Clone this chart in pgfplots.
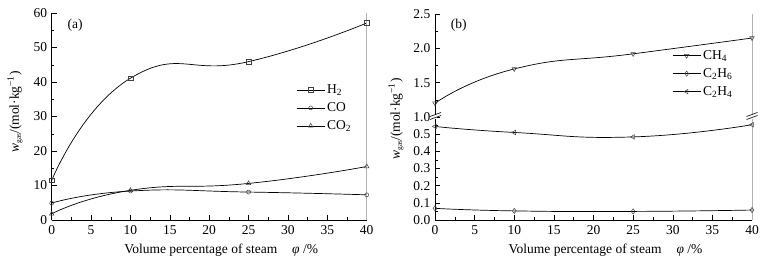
\documentclass[border=0pt]{standalone}
\usepackage{fontspec}
\setmainfont{Liberation Serif}
\usepackage{pgfplots}
\pgfplotsset{compat=1.18}
\begin{document}
\fontsize{13.5}{16}\selectfont
\begin{tikzpicture}[x=1pt,y=1pt]
\useasboundingbox (0pt,0pt) rectangle (770pt,259pt);
\pgfplotsset{
  base/.style={
    scale only axis, anchor=south west, clip=false,
    axis x line*=bottom, axis y line*=left,
    xmin=0, xmax=40, xtick={0,5,...,40}, minor x tick num=1,
    tick align=inside, major tick length=5pt, minor tick length=2.5pt,
    tick style={black, line width=0.5pt},
    axis line style={black, line width=0.6pt},
    /pgf/number format/assume math mode=true,
    tick label style={font=\fontsize{13.5}{15}\selectfont},
    xticklabel style={yshift=-1pt},
    label style={font=\fontsize{13.5}{15}\selectfont},
    legend style={draw=none, fill=none, font=\fontsize{13.5}{15}\selectfont,
      row sep=3pt, inner sep=0pt},
    legend cell align=left,
    legend image code/.code={\draw[mark repeat=2,mark phase=2,##1] plot coordinates {(0pt,0pt) (14pt,0pt) (28pt,0pt)};},
    every axis plot/.append style={black, line width=0.7pt},
  },
  mk/.style={mark options={solid, fill=white, draw=black!75, line width=0.5pt, rotate=#1}},
  mk/.default=0,
}
\def\ylab{\textit{w}\raisebox{-2pt}{\fontsize{7.5}{8}\selectfont gas}/(mol·kg\textsuperscript{−1})}
\def\xlab{Volume percentage of steam\hspace{1.1em}\textit{φ} /\%}
% ---------- panel (a)
\begin{axis}[base, at={(51.7pt,39pt)}, width=315pt, height=207pt,
  ymin=0, ymax=60, ytick={0,10,...,60}, minor y tick num=1,
  xlabel={\xlab}, xlabel style={xshift=12pt},
  legend style={at={(0.776,0.665)}, anchor=north west}]
\addplot[smooth, tension=0.9, mk, mark=square, mark size=2.4pt] coordinates {(0,11.5) (10,41.1) (25,45.9) (40,57.1)};
\addlegendentry{H\textsubscript{2}}
\addplot[smooth, tension=0.9, mk, mark=o, mark size=2pt] coordinates {(0,4.9) (10,8.4) (25,8.1) (40,7.3)};
\addlegendentry{CO}
\addplot[smooth, tension=0.9, mk, mark=triangle, mark size=2.6pt] coordinates {(0,1.8) (10,8.6) (25,10.6) (40,15.5)};
\addlegendentry{CO\textsubscript{2}}
\draw[black!30, line width=1pt] (rel axis cs:1,0) -- (rel axis cs:1,1);
\node[anchor=west] at (axis description cs:0.036,0.94) {(a)};
\end{axis}
% ---------- panel (b) lower
\begin{axis}[base, at={(435pt,39pt)}, width=317pt, height=103pt,
  ymin=0, ymax=0.6, ytick={0,0.1,...,0.5}, minor ytick={0.05,0.15,...,0.55},
  yticklabel style={/pgf/number format/.cd, fixed, fixed zerofill, precision=1},
  xlabel={\xlab}, xlabel style={xshift=12pt}]
\addplot[smooth, tension=0.9, mk, mark=diamond, mark size=2.6pt] coordinates {(0,0.068) (10,0.053) (25,0.05) (40,0.058)};
\addplot[smooth, tension=0.9, mk=90, mark=triangle, mark size=2.6pt] coordinates {(0,0.545) (10,0.51) (25,0.484) (40,0.555)};
\draw[black!30, line width=1pt] (rel axis cs:1,0) -- (rel axis cs:1,1);
\end{axis}
% ---------- panel (b) upper
\begin{axis}[base, at={(435pt,142pt)}, width=317pt, height=103pt,
  axis x line=none,
  ymin=1, ymax=2.5, ytick={1,1.5,2,2.5}, minor ytick={1.25,1.75,2.25},
  yticklabel style={/pgf/number format/.cd, fixed, fixed zerofill, precision=1},
  legend style={at={(0.748,0.67)}, anchor=north west}]
\addplot[smooth, tension=0.9, mk=180, mark=triangle, mark size=2.6pt] coordinates {(0,1.2) (10,1.70) (25,1.92) (40,2.15)};
\addlegendentry{CH\textsubscript{4}}
\addlegendimage{black, line width=0.7pt, mk, mark=diamond, mark size=2.6pt}
\addlegendentry{C\textsubscript{2}H\textsubscript{6}}
\addlegendimage{black, line width=0.7pt, mk=90, mark=triangle, mark size=2.6pt}
\addlegendentry{C\textsubscript{2}H\textsubscript{4}}
\draw[black!30, line width=1pt] (rel axis cs:1,0) -- (rel axis cs:1,1);
\node[anchor=west] at (axis description cs:0.035,0.89) {(b)};
\end{axis}
% break marks and y labels
\fill[white] (433pt,140pt) rectangle (437pt,144pt);
\draw[line width=0.6pt] (430pt,139.5pt) -- (441pt,143.5pt);
\draw[line width=0.6pt] (430pt,142.5pt) -- (441pt,146.5pt);
\fill[white] (750pt,140pt) rectangle (754pt,144pt);
\draw[line width=0.6pt] (746.5pt,139.5pt) -- (757.5pt,143.5pt);
\draw[line width=0.6pt] (746.5pt,142.5pt) -- (757.5pt,146.5pt);
\node[rotate=90, font=\fontsize{13.5}{15}\selectfont] at (15pt,147pt) {\ylab};
\node[rotate=90, font=\fontsize{13.5}{15}\selectfont] at (396pt,140pt) {\ylab};
\end{tikzpicture}
\end{document}
